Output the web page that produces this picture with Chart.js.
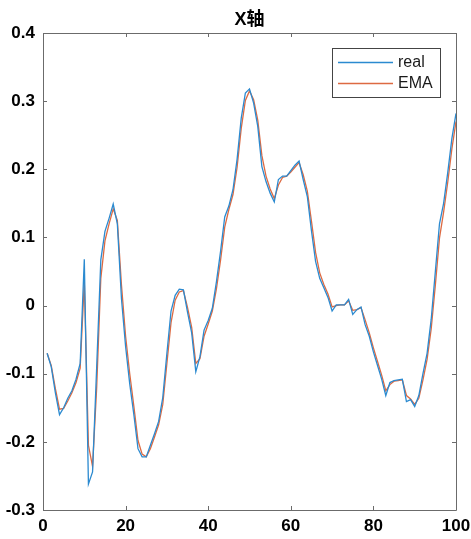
<!DOCTYPE html>
<html>
<head>
<meta charset="utf-8">
<script src="https://cdn.jsdelivr.net/npm/chart.js@4.4.1/dist/chart.umd.min.js"></script>
<style>
  html, body { margin: 0; padding: 0; background: #fff; }
  canvas { display: block; }
</style>
</head>
<body>
<canvas id="chart-x" width="471" height="539"></canvas>
<script>
'use strict';

/* ---- data ---- */
var TITLE = 'X轴';
var SERIES_NAMES = ['real', 'EMA'];

var samples = [
  1, 2, 3, 4, 5, 6, 7, 8, 9, 10, 11, 12, 13, 14, 15, 16, 17, 18, 19, 20,
  21, 22, 23, 24, 25, 26, 27, 28, 29, 30, 31, 32, 33, 34, 35, 36, 37, 38, 39, 40,
  41, 42, 43, 44, 45, 46, 47, 48, 49, 50, 51, 52, 53, 54, 55, 56, 57, 58, 59, 60,
  61, 62, 63, 64, 65, 66, 67, 68, 69, 70, 71, 72, 73, 74, 75, 76, 77, 78, 79, 80,
  81, 82, 83, 84, 85, 86, 87, 88, 89, 90, 91, 92, 93, 94, 95, 96, 97, 98, 99, 100
];

var realValues = [
  -0.070, -0.090, -0.128, -0.160, -0.150, -0.136, -0.125, -0.108, -0.085, 0.068,
  -0.262, -0.244, -0.090, 0.067, 0.109, 0.128, 0.149, 0.120, 0.010, -0.060,
  -0.115, -0.160, -0.210, -0.222, -0.222, -0.205, -0.188, -0.170, -0.135, -0.070,
  -0.008, 0.015, 0.024, 0.023, -0.010, -0.040, -0.097, -0.075, -0.036, -0.022,
  -0.004, 0.035, 0.080, 0.130, 0.146, 0.170, 0.215, 0.275, 0.312, 0.318,
  0.297, 0.263, 0.204, 0.182, 0.165, 0.152, 0.185, 0.190, 0.190, 0.198,
  0.206, 0.212, 0.185, 0.160, 0.110, 0.065, 0.040, 0.026, 0.012, -0.008,
  0.001, 0.001, 0.001, 0.009, -0.013, -0.006, -0.002, -0.028, -0.045, -0.068,
  -0.088, -0.108, -0.132, -0.113, -0.110, -0.109, -0.108, -0.141, -0.138, -0.148,
  -0.132, -0.100, -0.070, -0.020, 0.050, 0.120, 0.150, 0.195, 0.245, 0.282
];

var emaValues = [
  -0.070, -0.088, -0.122, -0.152, -0.151, -0.140, -0.128, -0.113, -0.092, 0.035,
  -0.205, -0.236, -0.120, 0.040, 0.095, 0.120, 0.142, 0.125, 0.030, -0.045,
  -0.100, -0.148, -0.198, -0.218, -0.222, -0.210, -0.193, -0.175, -0.145, -0.085,
  -0.025, 0.008, 0.020, 0.022, -0.003, -0.032, -0.085, -0.078, -0.045, -0.027,
  -0.008, 0.025, 0.067, 0.115, 0.141, 0.163, 0.203, 0.260, 0.301, 0.315,
  0.302, 0.272, 0.220, 0.190, 0.171, 0.157, 0.177, 0.188, 0.190, 0.196,
  0.203, 0.210, 0.192, 0.168, 0.124, 0.078, 0.048, 0.031, 0.017, -0.002,
  0.000, 0.001, 0.001, 0.007, -0.007, -0.006, -0.003, -0.021, -0.040, -0.062,
  -0.082, -0.102, -0.125, -0.116, -0.111, -0.110, -0.109, -0.132, -0.137, -0.145,
  -0.136, -0.109, -0.079, -0.034, 0.030, 0.099, 0.137, 0.181, 0.230, 0.270
];

var xTicks = [0, 20, 40, 60, 80, 100];
var yTicks = [-0.3, -0.2, -0.1, 0, 0.1, 0.2, 0.3, 0.4];
var yTickLabels = ['-0.3', '-0.2', '-0.1', '0', '0.1', '0.2', '0.3', '0.4'];

/* ---- styling ---- */
var COLORS    = ['#2b8ad0', '#dd6a42'];
var AXIS_GRAY = '#6b6b6b';
var FONT      = "'Liberation Sans', Arial, 'Noto Sans CJK SC', sans-serif";

function toPoints(vals) {
  return vals.map(function (v, i) { return { x: samples[i], y: v }; });
}

/* MATLAB-like box, inward ticks, title and legend inside the axes */
var matlabFrame = {
  id: 'matlabFrame',
  afterDraw: function (chart) {
    var ctx = chart.ctx;
    var a = chart.chartArea;
    var xs = chart.scales.x, ys = chart.scales.y;
    var tl = 4;

    ctx.save();
    ctx.strokeStyle = AXIS_GRAY;
    ctx.lineWidth = 1;
    ctx.beginPath();
    ctx.rect(Math.round(a.left) + 0.5, Math.round(a.top) + 0.5,
             Math.round(a.right - a.left), Math.round(a.bottom - a.top));
    xTicks.forEach(function (t) {
      var px = Math.round(xs.getPixelForValue(t)) + 0.5;
      ctx.moveTo(px, a.bottom); ctx.lineTo(px, a.bottom - tl);
      ctx.moveTo(px, a.top);    ctx.lineTo(px, a.top + tl);
    });
    yTicks.forEach(function (t) {
      var py = Math.round(ys.getPixelForValue(t)) + 0.5;
      ctx.moveTo(a.left, py);  ctx.lineTo(a.left + tl, py);
      ctx.moveTo(a.right, py); ctx.lineTo(a.right - tl, py);
    });
    ctx.stroke();

    // title
    ctx.fillStyle = '#000';
    ctx.font = 'bold 18px ' + FONT;
    ctx.textAlign = 'center';
    ctx.textBaseline = 'middle';
    ctx.fillText(TITLE, (a.left + a.right) / 2, 20);

    // legend box, top right of the axes
    var bx = a.right - 124, by = a.top + 15, bw = 108, bh = 49;
    ctx.fillStyle = '#fff';
    ctx.fillRect(bx, by, bw, bh);
    ctx.strokeStyle = '#444';
    ctx.strokeRect(Math.round(bx) + 0.5, Math.round(by) + 0.5, bw, bh);
    ctx.font = '16px ' + FONT;
    ctx.textAlign = 'left';
    chart.data.datasets.forEach(function (ds, i) {
      var ly = by + 13.5 + i * 21.5;
      ctx.strokeStyle = ds.borderColor;
      ctx.lineWidth = 1.3;
      ctx.beginPath();
      ctx.moveTo(bx + 6, Math.round(ly) + 0.5);
      ctx.lineTo(bx + 61, Math.round(ly) + 0.5);
      ctx.stroke();
      ctx.fillStyle = '#1a1a1a';
      ctx.fillText(ds.label, bx + 66, ly + 1);
    });
    ctx.restore();
  }
};

new Chart(document.getElementById('chart-x').getContext('2d'), {
  type: 'line',
  data: {
    datasets: [
      { label: SERIES_NAMES[0], data: toPoints(realValues), borderColor: COLORS[0],
        borderWidth: 1.3, pointRadius: 0, tension: 0, fill: false },
      { label: SERIES_NAMES[1], data: toPoints(emaValues), borderColor: COLORS[1],
        borderWidth: 1.3, pointRadius: 0, tension: 0, fill: false }
    ]
  },
  options: {
    responsive: false,
    animation: false,
    devicePixelRatio: 1,
    layout: { padding: { top: 33, right: 15, left: 0, bottom: 0 } },
    plugins: { legend: { display: false }, title: { display: false }, tooltip: { enabled: false } },
    scales: {
      x: {
        type: 'linear', min: 0, max: 100,
        grid: { display: false, drawTicks: false }, border: { display: false },
        afterBuildTicks: function (s) { s.ticks = xTicks.map(function (v) { return { value: v }; }); },
        afterFit: function (s) { s.height = 29; s.paddingLeft = 0; s.paddingRight = 0; },
        ticks: { color: '#000', padding: 6, maxRotation: 0, autoSkip: false,
                 font: { family: FONT, size: 17, weight: 'bold' } }
      },
      y: {
        type: 'linear', min: -0.3, max: 0.4,
        grid: { display: false, drawTicks: false }, border: { display: false },
        afterBuildTicks: function (s) { s.ticks = yTicks.map(function (v) { return { value: v }; }); },
        afterFit: function (s) { s.width = 43; s.paddingTop = 0; s.paddingBottom = 0; },
        ticks: {
          color: '#000', padding: 8, autoSkip: false,
          font: { family: FONT, size: 17, weight: 'bold' },
          callback: function (v) {
            var k = yTicks.findIndex(function (t) { return Math.abs(t - v) < 1e-9; });
            return k >= 0 ? yTickLabels[k] : '';
          }
        }
      }
    }
  },
  plugins: [matlabFrame]
});
</script>
</body>
</html>
